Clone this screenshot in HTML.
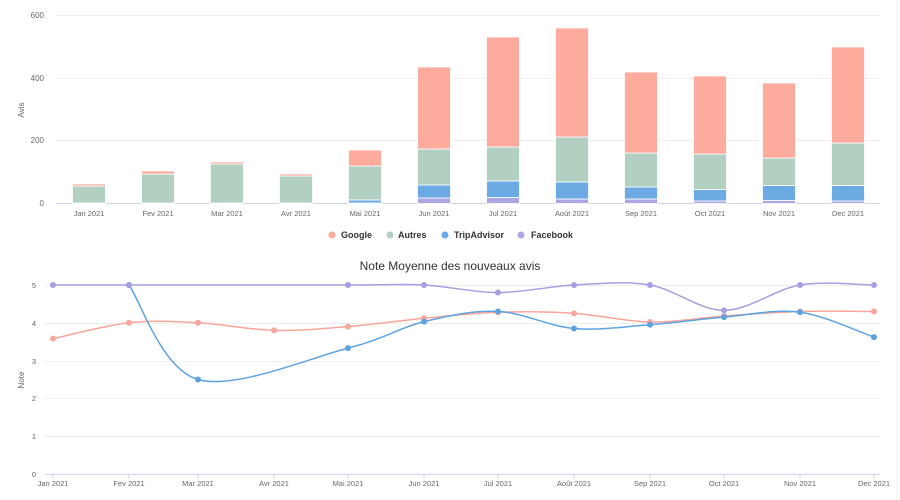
<!DOCTYPE html>
<html><head><meta charset="utf-8"><style>
html,body{margin:0;padding:0;background:#fff;width:900px;height:500px;overflow:hidden}
svg{display:block;font-family:"Liberation Sans",sans-serif}
</style></head><body>
<svg id="s" width="900" height="500" xmlns="http://www.w3.org/2000/svg">
<g stroke="#eeeeee" stroke-width="1">
<line x1="56" x2="880" y1="15.5" y2="15.5"/><line x1="56" x2="880" y1="78.5" y2="78.5"/><line x1="56" x2="880" y1="140.5" y2="140.5"/>
</g>
<line x1="56" x2="880" y1="203.5" y2="203.5" stroke="#ccd6eb"/>
<g fill="#666" font-size="8" text-anchor="end">
<text x="44" y="18">600</text><text x="44" y="81">400</text><text x="44" y="143">200</text><text x="44" y="206">0</text>
</g>
<text x="24" y="110" fill="#666" font-size="8" text-anchor="middle" transform="rotate(-90 24 110)">Avis</text>
<g id="bars"></g>
<g fill="#666" font-size="7.5" text-anchor="middle" id="xl1"></g>
<g font-size="9" font-weight="bold" fill="#333">
<circle cx="332" cy="235" r="3.5" fill="#fcab9c"/><text x="341" y="238">Google</text>
<circle cx="390" cy="235" r="3.5" fill="#b2d0c2"/><text x="398" y="238">Autres</text>
<circle cx="445" cy="235" r="3.5" fill="#6caae4"/><text x="454" y="238">TripAdvisor</text>
<circle cx="521" cy="235" r="3.5" fill="#aba6e4"/><text x="531" y="238">Facebook</text>
</g>
<text x="450" y="270" fill="#333" font-size="12" text-anchor="middle">Note Moyenne des nouveaux avis</text>
<g stroke="#eeeeee"><line x1="45" x2="880" y1="285.5" y2="285.5"/><line x1="45" x2="880" y1="323.5" y2="323.5"/><line x1="45" x2="880" y1="361.5" y2="361.5"/><line x1="45" x2="880" y1="398.5" y2="398.5"/><line x1="45" x2="880" y1="436.5" y2="436.5"/></g>
<line x1="45" x2="880" y1="474.5" y2="474.5" stroke="#ccd6eb"/>
<g fill="#666" font-size="7.5" text-anchor="end">
<text x="36" y="288">5</text><text x="36" y="326">4</text><text x="36" y="364">3</text><text x="36" y="401">2</text><text x="36" y="439">1</text><text x="36" y="477">0</text>
</g>
<text x="24" y="380" fill="#666" font-size="8" text-anchor="middle" transform="rotate(-90 24 380)">Note</text>
<g id="lines"></g>
<g fill="#666" font-size="7.5" text-anchor="middle" id="xl2"></g>
<line x1="897" x2="897" y1="0" y2="500" stroke="#f0f0f0"/>
</svg>
<script>
var NS="http://www.w3.org/2000/svg";
function el(p,t,a,txt){var e=document.createElementNS(NS,t);for(var k in a)e.setAttribute(k,a[k]);if(txt)e.textContent=txt;p.appendChild(e);return e;}
var m=["Jan 2021","Fev 2021","Mar 2021","Avr 2021","Mai 2021","Jun 2021","Jul 2021","Août 2021","Sep 2021","Oct 2021","Nov 2021","Dec 2021"];
var bars=document.getElementById("bars"),xl1=document.getElementById("xl1");
// tops: fb, ta, autres, google
var T=[[203,203,186,184],[203,203,174,171],[203,203,164,162],[203,203,176,174],[203,200,166,150],[198,185,149,67],[197.5,181,147,37],[199,182,137,28],[199,187,153,72],[201,189.5,154,76],[200.5,185.5,158,83],[201,185.5,143,47]];
var C=["#aba6e4","#6caae4","#b2d0c2","#fcab9c"];
for(var i=0;i<12;i++){var cx=89+69*i,prev=203.5;
 for(var j=0;j<4;j++){var t=T[i][j];if(prev-t>0.3)el(bars,"rect",{x:cx-16.5,y:t,width:33,height:prev-t,fill:C[j],stroke:"#fff","stroke-width":0.8});prev=t;}
 el(xl1,"text",{x:cx,y:216},m[i]);}
var X=[53,129,198,274,348,424,498,574,650,724,800,874];
var xl2=document.getElementById("xl2");
for(var i=0;i<12;i++){el(xl2,"text",{x:X[i],y:486},m[i]);el(xl2,"line",{x1:X[i],x2:X[i],y1:474,y2:479,stroke:"#ccd6eb"});}
function Y(v){return 474-v*37.8;}
var G=[3.58,4,4,3.8,3.9,4.12,4.28,4.25,4.02,4.18,4.3,4.3];
var TA=[null,5,2.5,null,3.33,4.03,4.3,3.85,3.95,4.15,4.28,3.62];
var FB=[5,5,null,null,5,5,4.8,5,5,4.33,5,5];
var L=document.getElementById("lines");
function draw(v,col){var p=[];for(var i=0;i<12;i++)if(v[i]!=null)p.push([X[i],Y(v[i])]);
 var d="M"+p[0][0]+","+p[0][1];
 for(var i=0;i<p.length-1;i++){var p0=p[i-1]||p[i],p1=p[i],p2=p[i+1],p3=p[i+2]||p2;
  var c1x=p1[0]+(p2[0]-p0[0])/6,c1y=p1[1]+(p2[1]-p0[1])/6,c2x=p2[0]-(p3[0]-p1[0])/6,c2y=p2[1]-(p3[1]-p1[1])/6;
  d+=" C"+c1x+","+c1y+" "+c2x+","+c2y+" "+p2[0]+","+p2[1];}
 el(L,"path",{d:d,fill:"none",stroke:col,"stroke-width":1.5});
 p.forEach(function(q){el(L,"circle",{cx:q[0],cy:q[1],r:3,fill:col});});}
draw(G,"#f9a59b");draw(TA,"#5ea3e0");draw(FB,"#a49fe2");
</script>
</body></html>
